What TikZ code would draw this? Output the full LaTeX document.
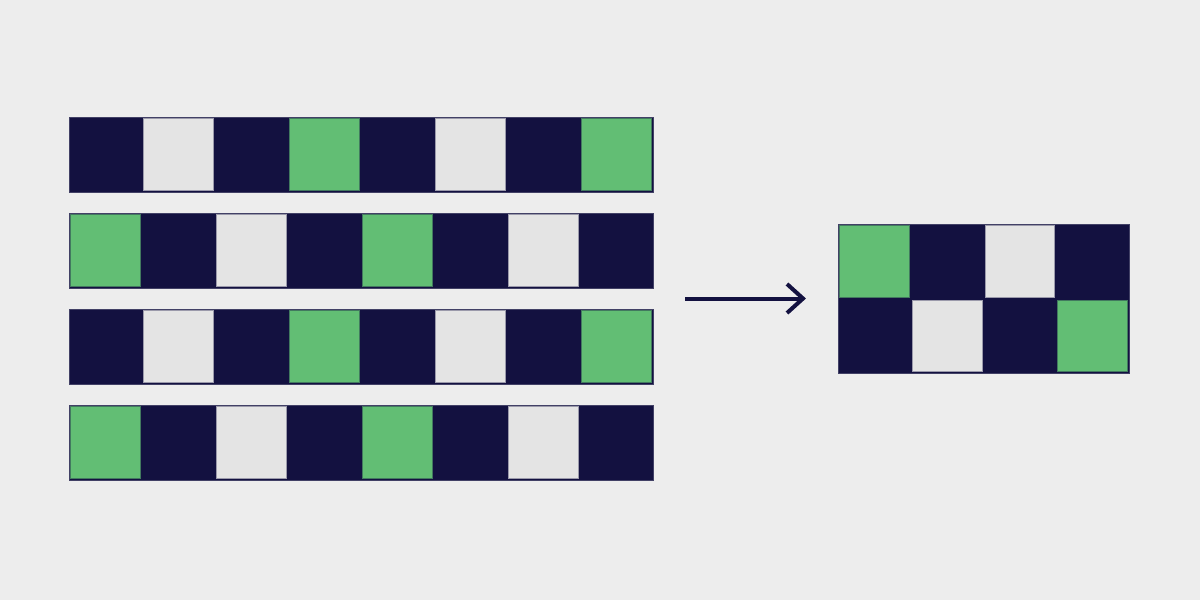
\documentclass[tikz,border=0pt]{standalone}
\definecolor{bg}{HTML}{EDEDED}
\definecolor{navy}{HTML}{131140}
\definecolor{grn}{HTML}{62BE74}
\definecolor{lite}{HTML}{E4E4E4}
\begin{document}
\begin{tikzpicture}[x=0.75pt,y=-0.75pt,
  rowbox/.style={fill=navy,draw=navy!80!white,line width=0.75pt},
  gcell/.style={fill=grn,draw=navy!40!grn,line width=0.6pt},
  lcell/.style={fill=lite,draw=navy!35!lite,line width=0.6pt},
  arrowline/.style={draw=navy,line width=3pt}]
\fill[bg] (0,0) rectangle (1200,600);
\useasboundingbox (0,0) rectangle (1200,600);
% left rows: 0 = navy, 1 = green, 2 = light
\foreach \r/\pat in {0/{0,2,0,1,0,2,0,1},1/{1,0,2,0,1,0,2,0},2/{0,2,0,1,0,2,0,1},3/{1,0,2,0,1,0,2,0}}{
  \pgfmathsetmacro{\ytop}{117+96*\r}
  \pgfmathsetmacro{\ybot}{\ytop+75}
  \draw[rowbox] (69,\ytop) rectangle (653,\ybot);
  \foreach \c [count=\i from 0] in \pat {
    \pgfmathsetmacro{\xl}{69+73*\i+1.5}
    \pgfmathsetmacro{\xr}{69+73*(\i+1)-1.5}
    \ifnum\c=1 \draw[gcell] (\xl,\ytop+1.5) rectangle (\xr,\ybot-1.5);\fi
    \ifnum\c=2 \draw[lcell] (\xl,\ytop+1.5) rectangle (\xr,\ybot-1.5);\fi
  }
}
% right grid
\draw[rowbox] (838,224) rectangle (1129,373);
\foreach \c [count=\i from 0] in {1,0,2,0}{
  \pgfmathsetmacro{\xl}{838+72.75*\i+1.5}
  \pgfmathsetmacro{\xr}{838+72.75*(\i+1)-1.5}
  \ifnum\c=1 \draw[gcell] (\xl,225.5) rectangle (\xr,297);\fi
  \ifnum\c=2 \draw[lcell] (\xl,225.5) rectangle (\xr,297);\fi
}
\foreach \c [count=\i from 0] in {0,2,0,1}{
  \pgfmathsetmacro{\xl}{838+72.75*\i+1.5}
  \pgfmathsetmacro{\xr}{838+72.75*(\i+1)-1.5}
  \ifnum\c=1 \draw[gcell] (\xl,300) rectangle (\xr,371.5);\fi
  \ifnum\c=2 \draw[lcell] (\xl,300) rectangle (\xr,371.5);\fi
}
% arrow
\coordinate (as) at (685,298.5);
\coordinate (ae) at (803,298.5);
\coordinate (au) at (787,284);
\coordinate (ad) at (787,313);
\draw[arrowline] (as) -- (ae);
\draw[arrowline,line join=miter] (au) -- (ae) -- (ad);
\end{tikzpicture}
\end{document}
